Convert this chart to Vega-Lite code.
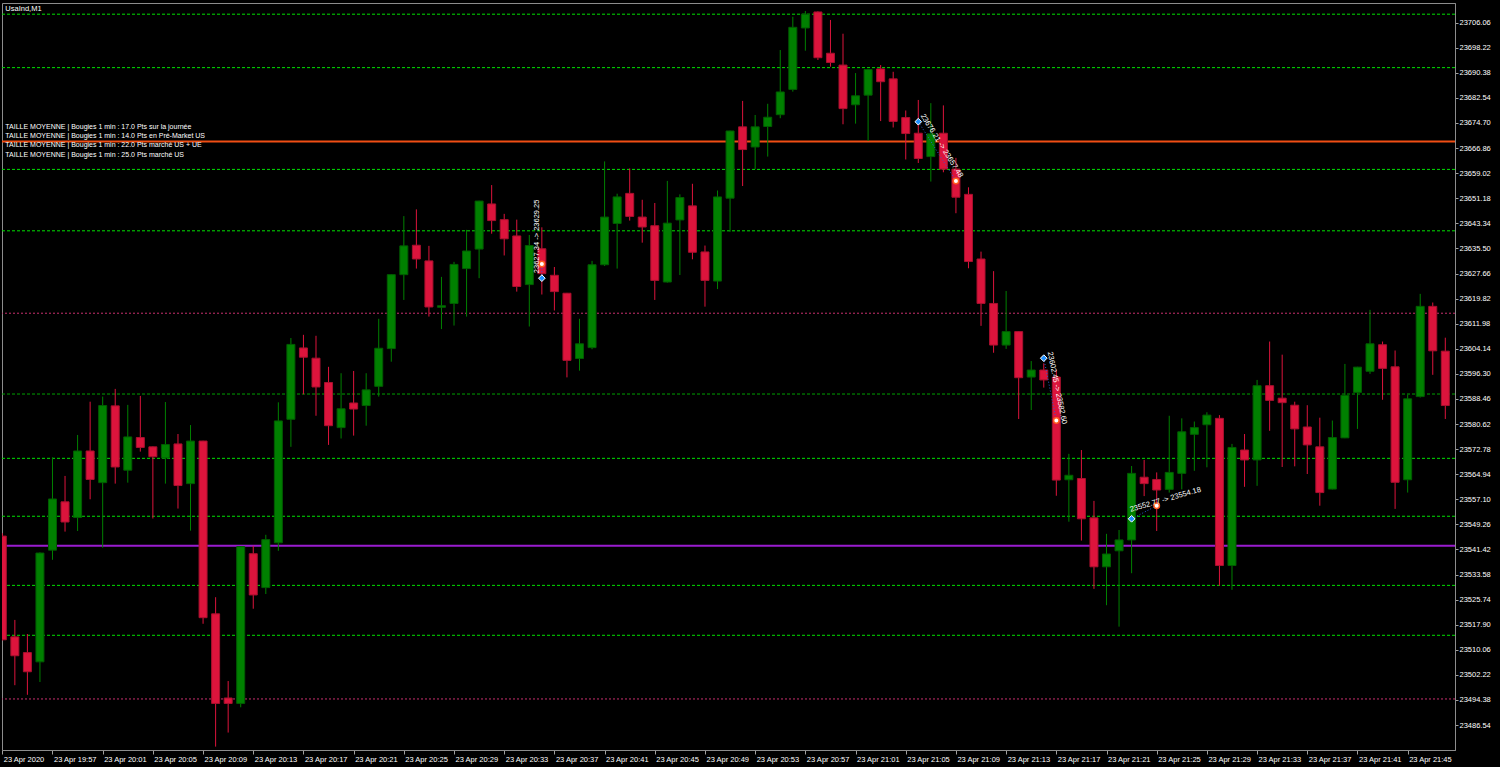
{
  "$schema": "https://vega.github.io/schema/vega-lite/v6.json",
  "width": 1453,
  "height": 747,
  "autosize": {"type": "none"},
  "padding": {"left": 2, "top": 3, "right": 45, "bottom": 17},
  "background": "#000000",
  "config": {
    "view": {"stroke": "#8c8c8c", "strokeWidth": 1},
    "scale": {"continuousPadding": 0},
    "axis": {"labelOverlap": false, "labelFlush": false, "labelBound": false, "grid": false}
  },
  "datasets": {
    "header": [
      {"t": "2020-04-23T19:53:00Z", "p": 23712.2, "txt": "UsaInd,M1"}
    ],
    "levels": [
      {"p": 23708.7, "type": "niveau"},
      {"p": 23692.0, "type": "niveau"},
      {"p": 23660.2, "type": "niveau"},
      {"p": 23641.0, "type": "niveau"},
      {"p": 23590.0, "type": "niveau fort"},
      {"p": 23569.9, "type": "niveau"},
      {"p": 23551.8, "type": "niveau"},
      {"p": 23530.2, "type": "niveau"},
      {"p": 23514.6, "type": "niveau"},
      {"p": 23615.25, "type": "extreme"},
      {"p": 23494.7, "type": "extreme"},
      {"p": 23668.9, "type": "ouverture"},
      {"p": 23542.6, "type": "cloture"}
    ],
    "info": [
      {"t": "2020-04-23T19:53:00Z", "p": 23668.9, "txt": "TAILLE MOYENNE | Bougies 1 min : 17.0 Pts sur la journée\nTAILLE MOYENNE | Bougies 1 min : 14.0 Pts en Pré-Market US\nTAILLE MOYENNE | Bougies 1 min : 22.0 Pts marché US + UE\nTAILLE MOYENNE | Bougies 1 min : 25.0 Pts marché US"}
    ],
    "trades": [
      {"id": 1, "t_in": "2020-04-23T20:36:00Z", "p_in": 23626.2, "t_out": "2020-04-23T20:36:00Z", "p_out": 23630.6, "label": "23627.34 -> 23629.25"},
      {"id": 2, "t_in": "2020-04-23T21:06:00Z", "p_in": 23675.1, "t_out": "2020-04-23T21:09:00Z", "p_out": 23656.6, "label": "23676.21 -> 23657.48"},
      {"id": 3, "t_in": "2020-04-23T21:16:00Z", "p_in": 23601.2, "t_out": "2020-04-23T21:17:00Z", "p_out": 23581.7, "label": "23602.45 -> 23582.60"},
      {"id": 4, "t_in": "2020-04-23T21:23:00Z", "p_in": 23551.0, "t_out": "2020-04-23T21:25:00Z", "p_out": 23555.1, "label": "23552.77 -> 23554.18"}
    ],
    "candles": [
      {"t": "2020-04-23T19:53:00Z", "o": 23545.6, "h": 23546.5, "l": 23513.0, "c": 23513.2},
      {"t": "2020-04-23T19:54:00Z", "o": 23514.1, "h": 23519.4, "l": 23499.0, "c": 23508.2},
      {"t": "2020-04-23T19:55:00Z", "o": 23509.2, "h": 23515.0, "l": 23496.0, "c": 23503.2},
      {"t": "2020-04-23T19:56:00Z", "o": 23506.3, "h": 23540.5, "l": 23500.0, "c": 23540.3},
      {"t": "2020-04-23T19:57:00Z", "o": 23541.2, "h": 23570.2, "l": 23538.2, "c": 23557.2},
      {"t": "2020-04-23T19:58:00Z", "o": 23556.3, "h": 23564.4, "l": 23547.0, "c": 23550.0},
      {"t": "2020-04-23T19:59:00Z", "o": 23551.4, "h": 23577.2, "l": 23547.2, "c": 23572.2},
      {"t": "2020-04-23T20:00:00Z", "o": 23572.2, "h": 23587.6, "l": 23557.1, "c": 23563.3},
      {"t": "2020-04-23T20:01:00Z", "o": 23562.3, "h": 23589.2, "l": 23542.0, "c": 23586.4},
      {"t": "2020-04-23T20:02:00Z", "o": 23586.3, "h": 23591.6, "l": 23562.0, "c": 23567.2},
      {"t": "2020-04-23T20:03:00Z", "o": 23566.2, "h": 23586.6, "l": 23562.3, "c": 23576.6},
      {"t": "2020-04-23T20:04:00Z", "o": 23576.4, "h": 23589.4, "l": 23572.0, "c": 23573.3},
      {"t": "2020-04-23T20:05:00Z", "o": 23573.5, "h": 23573.6, "l": 23551.1, "c": 23570.4},
      {"t": "2020-04-23T20:06:00Z", "o": 23570.0, "h": 23587.5, "l": 23562.0, "c": 23574.2},
      {"t": "2020-04-23T20:07:00Z", "o": 23574.4, "h": 23577.5, "l": 23554.2, "c": 23561.4},
      {"t": "2020-04-23T20:08:00Z", "o": 23562.0, "h": 23580.3, "l": 23547.3, "c": 23575.3},
      {"t": "2020-04-23T20:09:00Z", "o": 23575.3, "h": 23575.4, "l": 23518.2, "c": 23520.1},
      {"t": "2020-04-23T20:10:00Z", "o": 23521.3, "h": 23526.5, "l": 23479.8, "c": 23493.3},
      {"t": "2020-04-23T20:11:00Z", "o": 23495.0, "h": 23500.3, "l": 23484.2, "c": 23493.3},
      {"t": "2020-04-23T20:12:00Z", "o": 23493.3, "h": 23542.4, "l": 23492.1, "c": 23542.3},
      {"t": "2020-04-23T20:13:00Z", "o": 23540.1, "h": 23542.6, "l": 23522.9, "c": 23527.2},
      {"t": "2020-04-23T20:14:00Z", "o": 23529.5, "h": 23546.0, "l": 23527.5, "c": 23544.5},
      {"t": "2020-04-23T20:15:00Z", "o": 23543.5, "h": 23587.4, "l": 23541.0, "c": 23581.6},
      {"t": "2020-04-23T20:16:00Z", "o": 23582.1, "h": 23607.5, "l": 23573.5, "c": 23605.5},
      {"t": "2020-04-23T20:17:00Z", "o": 23604.4, "h": 23608.5, "l": 23589.9, "c": 23601.5},
      {"t": "2020-04-23T20:18:00Z", "o": 23601.2, "h": 23608.2, "l": 23583.2, "c": 23592.2},
      {"t": "2020-04-23T20:19:00Z", "o": 23593.6, "h": 23598.5, "l": 23574.1, "c": 23580.1},
      {"t": "2020-04-23T20:20:00Z", "o": 23579.5, "h": 23596.5, "l": 23576.1, "c": 23585.4},
      {"t": "2020-04-23T20:21:00Z", "o": 23587.2, "h": 23597.2, "l": 23577.0, "c": 23585.3},
      {"t": "2020-04-23T20:22:00Z", "o": 23586.4, "h": 23596.5, "l": 23580.1, "c": 23591.3},
      {"t": "2020-04-23T20:23:00Z", "o": 23592.4, "h": 23613.5, "l": 23589.2, "c": 23604.3},
      {"t": "2020-04-23T20:24:00Z", "o": 23604.2, "h": 23627.4, "l": 23600.1, "c": 23627.3},
      {"t": "2020-04-23T20:25:00Z", "o": 23627.3, "h": 23645.6, "l": 23619.4, "c": 23636.3},
      {"t": "2020-04-23T20:26:00Z", "o": 23636.5, "h": 23647.7, "l": 23629.2, "c": 23632.2},
      {"t": "2020-04-23T20:27:00Z", "o": 23631.6, "h": 23636.3, "l": 23614.2, "c": 23617.2},
      {"t": "2020-04-23T20:28:00Z", "o": 23617.1, "h": 23626.6, "l": 23610.3, "c": 23617.6},
      {"t": "2020-04-23T20:29:00Z", "o": 23618.3, "h": 23631.3, "l": 23611.4, "c": 23630.5},
      {"t": "2020-04-23T20:30:00Z", "o": 23629.2, "h": 23641.3, "l": 23614.2, "c": 23634.7},
      {"t": "2020-04-23T20:31:00Z", "o": 23635.3, "h": 23650.4, "l": 23626.2, "c": 23650.3},
      {"t": "2020-04-23T20:32:00Z", "o": 23649.4, "h": 23655.3, "l": 23640.1, "c": 23644.2},
      {"t": "2020-04-23T20:33:00Z", "o": 23644.5, "h": 23646.3, "l": 23633.3, "c": 23638.5},
      {"t": "2020-04-23T20:34:00Z", "o": 23639.4, "h": 23644.5, "l": 23622.0, "c": 23623.6},
      {"t": "2020-04-23T20:35:00Z", "o": 23624.2, "h": 23639.7, "l": 23611.1, "c": 23636.4},
      {"t": "2020-04-23T20:36:00Z", "o": 23635.4, "h": 23642.1, "l": 23621.1, "c": 23627.6},
      {"t": "2020-04-23T20:37:00Z", "o": 23627.1, "h": 23629.7, "l": 23616.1, "c": 23622.0},
      {"t": "2020-04-23T20:38:00Z", "o": 23621.5, "h": 23621.6, "l": 23595.2, "c": 23600.5},
      {"t": "2020-04-23T20:39:00Z", "o": 23601.1, "h": 23613.5, "l": 23597.3, "c": 23605.7},
      {"t": "2020-04-23T20:40:00Z", "o": 23604.5, "h": 23631.6, "l": 23604.0, "c": 23630.4},
      {"t": "2020-04-23T20:41:00Z", "o": 23630.4, "h": 23662.7, "l": 23630.0, "c": 23645.3},
      {"t": "2020-04-23T20:42:00Z", "o": 23643.3, "h": 23652.6, "l": 23629.2, "c": 23651.6},
      {"t": "2020-04-23T20:43:00Z", "o": 23652.7, "h": 23660.5, "l": 23644.2, "c": 23645.5},
      {"t": "2020-04-23T20:44:00Z", "o": 23645.3, "h": 23650.7, "l": 23637.3, "c": 23642.2},
      {"t": "2020-04-23T20:45:00Z", "o": 23642.6, "h": 23649.7, "l": 23619.4, "c": 23625.5},
      {"t": "2020-04-23T20:46:00Z", "o": 23625.0, "h": 23656.6, "l": 23624.8, "c": 23643.4},
      {"t": "2020-04-23T20:47:00Z", "o": 23644.4, "h": 23652.4, "l": 23627.2, "c": 23651.4},
      {"t": "2020-04-23T20:48:00Z", "o": 23648.8, "h": 23655.7, "l": 23632.1, "c": 23634.3},
      {"t": "2020-04-23T20:49:00Z", "o": 23634.4, "h": 23636.4, "l": 23617.3, "c": 23625.5},
      {"t": "2020-04-23T20:50:00Z", "o": 23625.3, "h": 23653.6, "l": 23622.8, "c": 23651.6},
      {"t": "2020-04-23T20:51:00Z", "o": 23651.2, "h": 23672.3, "l": 23640.7, "c": 23672.2},
      {"t": "2020-04-23T20:52:00Z", "o": 23673.5, "h": 23681.6, "l": 23655.0, "c": 23666.4},
      {"t": "2020-04-23T20:53:00Z", "o": 23667.2, "h": 23677.2, "l": 23660.3, "c": 23673.5},
      {"t": "2020-04-23T20:54:00Z", "o": 23673.6, "h": 23680.7, "l": 23664.2, "c": 23676.5},
      {"t": "2020-04-23T20:55:00Z", "o": 23677.3, "h": 23697.5, "l": 23676.2, "c": 23684.4},
      {"t": "2020-04-23T20:56:00Z", "o": 23685.2, "h": 23707.9, "l": 23684.5, "c": 23704.6},
      {"t": "2020-04-23T20:57:00Z", "o": 23704.4, "h": 23709.7, "l": 23697.3, "c": 23708.7},
      {"t": "2020-04-23T20:58:00Z", "o": 23709.4, "h": 23709.6, "l": 23694.4, "c": 23695.1},
      {"t": "2020-04-23T20:59:00Z", "o": 23696.5, "h": 23706.9, "l": 23692.3, "c": 23693.6},
      {"t": "2020-04-23T21:00:00Z", "o": 23692.8, "h": 23702.6, "l": 23674.3, "c": 23679.2},
      {"t": "2020-04-23T21:01:00Z", "o": 23680.4, "h": 23690.3, "l": 23674.5, "c": 23683.2},
      {"t": "2020-04-23T21:02:00Z", "o": 23683.4, "h": 23691.6, "l": 23669.1, "c": 23691.4},
      {"t": "2020-04-23T21:03:00Z", "o": 23691.6, "h": 23692.8, "l": 23675.3, "c": 23687.6},
      {"t": "2020-04-23T21:04:00Z", "o": 23688.5, "h": 23690.7, "l": 23673.3, "c": 23675.2},
      {"t": "2020-04-23T21:05:00Z", "o": 23676.4, "h": 23678.6, "l": 23663.3, "c": 23671.4},
      {"t": "2020-04-23T21:06:00Z", "o": 23671.5, "h": 23681.9, "l": 23662.2, "c": 23663.6},
      {"t": "2020-04-23T21:07:00Z", "o": 23664.2, "h": 23680.9, "l": 23656.4, "c": 23671.3},
      {"t": "2020-04-23T21:08:00Z", "o": 23671.5, "h": 23680.2, "l": 23659.3, "c": 23660.3},
      {"t": "2020-04-23T21:09:00Z", "o": 23660.3, "h": 23663.8, "l": 23646.5, "c": 23651.5},
      {"t": "2020-04-23T21:10:00Z", "o": 23652.4, "h": 23654.6, "l": 23629.3, "c": 23631.4},
      {"t": "2020-04-23T21:11:00Z", "o": 23632.2, "h": 23634.5, "l": 23611.3, "c": 23618.3},
      {"t": "2020-04-23T21:12:00Z", "o": 23618.3, "h": 23628.4, "l": 23602.9, "c": 23605.3},
      {"t": "2020-04-23T21:13:00Z", "o": 23605.3, "h": 23622.2, "l": 23604.1, "c": 23609.5},
      {"t": "2020-04-23T21:14:00Z", "o": 23609.5, "h": 23609.6, "l": 23582.2, "c": 23595.1},
      {"t": "2020-04-23T21:15:00Z", "o": 23595.3, "h": 23600.3, "l": 23585.0, "c": 23597.5},
      {"t": "2020-04-23T21:16:00Z", "o": 23597.5, "h": 23599.6, "l": 23592.0, "c": 23594.4},
      {"t": "2020-04-23T21:17:00Z", "o": 23595.3, "h": 23597.5, "l": 23558.2, "c": 23563.1},
      {"t": "2020-04-23T21:18:00Z", "o": 23563.2, "h": 23571.3, "l": 23550.1, "c": 23564.6},
      {"t": "2020-04-23T21:19:00Z", "o": 23563.6, "h": 23572.5, "l": 23544.2, "c": 23551.0},
      {"t": "2020-04-23T21:20:00Z", "o": 23551.3, "h": 23556.6, "l": 23529.1, "c": 23536.0},
      {"t": "2020-04-23T21:21:00Z", "o": 23536.0, "h": 23546.3, "l": 23524.0, "c": 23540.0},
      {"t": "2020-04-23T21:22:00Z", "o": 23541.0, "h": 23547.5, "l": 23517.3, "c": 23544.4},
      {"t": "2020-04-23T21:23:00Z", "o": 23544.4, "h": 23567.5, "l": 23534.0, "c": 23565.2},
      {"t": "2020-04-23T21:24:00Z", "o": 23564.0, "h": 23569.4, "l": 23558.1, "c": 23562.0},
      {"t": "2020-04-23T21:25:00Z", "o": 23563.3, "h": 23565.5, "l": 23547.2, "c": 23560.0},
      {"t": "2020-04-23T21:26:00Z", "o": 23560.2, "h": 23583.2, "l": 23559.2, "c": 23565.5},
      {"t": "2020-04-23T21:27:00Z", "o": 23565.2, "h": 23582.4, "l": 23560.2, "c": 23578.2},
      {"t": "2020-04-23T21:28:00Z", "o": 23577.4, "h": 23581.4, "l": 23566.0, "c": 23579.5},
      {"t": "2020-04-23T21:29:00Z", "o": 23580.4, "h": 23584.3, "l": 23567.1, "c": 23583.4},
      {"t": "2020-04-23T21:30:00Z", "o": 23582.4, "h": 23583.4, "l": 23530.1, "c": 23536.4},
      {"t": "2020-04-23T21:31:00Z", "o": 23536.4, "h": 23574.4, "l": 23528.8, "c": 23573.3},
      {"t": "2020-04-23T21:32:00Z", "o": 23572.5, "h": 23577.5, "l": 23561.0, "c": 23569.4},
      {"t": "2020-04-23T21:33:00Z", "o": 23569.4, "h": 23594.4, "l": 23561.3, "c": 23592.6},
      {"t": "2020-04-23T21:34:00Z", "o": 23592.6, "h": 23606.4, "l": 23578.5, "c": 23588.0},
      {"t": "2020-04-23T21:35:00Z", "o": 23588.7, "h": 23602.3, "l": 23567.2, "c": 23587.3},
      {"t": "2020-04-23T21:36:00Z", "o": 23586.5, "h": 23587.6, "l": 23567.4, "c": 23579.1},
      {"t": "2020-04-23T21:37:00Z", "o": 23579.7, "h": 23586.5, "l": 23565.0, "c": 23574.1},
      {"t": "2020-04-23T21:38:00Z", "o": 23573.5, "h": 23582.6, "l": 23555.1, "c": 23559.2},
      {"t": "2020-04-23T21:39:00Z", "o": 23560.3, "h": 23581.7, "l": 23560.2, "c": 23576.4},
      {"t": "2020-04-23T21:40:00Z", "o": 23576.3, "h": 23599.4, "l": 23576.2, "c": 23589.6},
      {"t": "2020-04-23T21:41:00Z", "o": 23590.5, "h": 23598.5, "l": 23579.1, "c": 23598.4},
      {"t": "2020-04-23T21:42:00Z", "o": 23597.1, "h": 23616.3, "l": 23596.3, "c": 23605.7},
      {"t": "2020-04-23T21:43:00Z", "o": 23605.4, "h": 23606.4, "l": 23588.2, "c": 23598.0},
      {"t": "2020-04-23T21:44:00Z", "o": 23598.5, "h": 23603.6, "l": 23554.1, "c": 23562.4},
      {"t": "2020-04-23T21:45:00Z", "o": 23563.2, "h": 23589.8, "l": 23559.2, "c": 23588.5},
      {"t": "2020-04-23T21:46:00Z", "o": 23589.2, "h": 23621.3, "l": 23588.9, "c": 23617.4},
      {"t": "2020-04-23T21:47:00Z", "o": 23617.4, "h": 23618.6, "l": 23596.0, "c": 23603.5},
      {"t": "2020-04-23T21:48:00Z", "o": 23603.4, "h": 23607.6, "l": 23582.2, "c": 23586.4}
    ]
  },
  "layer": [
    {
      "data": {"name": "levels"},
      "transform": [{"filter": "datum.type == 'niveau' || datum.type == 'niveau fort'"}],
      "mark": {"type": "rule", "strokeDash": [3, 2], "strokeWidth": 1},
      "encoding": {
        "y": {
          "field": "p", "type": "quantitative", "title": null,
          "scale": {"domain": [23478.75, 23712.2], "nice": false, "zero": false},
          "axis": {
            "orient": "right",
            "values": [23706.06, 23698.22, 23690.38, 23682.54, 23674.70, 23666.86, 23659.02, 23651.18, 23643.34, 23635.50, 23627.66, 23619.82, 23611.98, 23604.14, 23596.30, 23588.46, 23580.62, 23572.78, 23564.94, 23557.10, 23549.26, 23541.42, 23533.58, 23525.74, 23517.90, 23510.06, 23502.22, 23494.38, 23486.54],
            "tickCount": 60,
            "format": ".2f", "labelAlign": "left", "labelPadding": 1, "tickSize": 3, "tickColor": "#a0a0a0", "domainColor": "#8c8c8c",
            "labelColor": "#ffffff", "labelFont": "Liberation Sans", "labelFontSize": 7.5, "labelOverlap": false, "labelFlush": false, "labelSeparation": 0, "grid": false, "title": null
          }
        },
        "color": {"field": "type", "type": "nominal", "scale": {"domain": ["niveau", "niveau fort"], "range": ["#00e000", "#00a000"]}, "legend": null}
      }
    },
    {
      "data": {"name": "levels"},
      "transform": [{"filter": "datum.type == 'extreme'"}],
      "mark": {"type": "rule", "strokeDash": [2, 2], "strokeWidth": 1, "color": "#c8306e"},
      "encoding": {
        "y": {"field": "p", "type": "quantitative", "title": null, "scale": {"domain": [23478.75, 23712.2], "nice": false, "zero": false}}
      }
    },
    {
      "data": {"name": "levels"},
      "transform": [{"filter": "datum.type == 'ouverture' || datum.type == 'cloture'"}],
      "mark": {"type": "rule", "strokeWidth": 2},
      "encoding": {
        "y": {"field": "p", "type": "quantitative", "title": null, "scale": {"domain": [23478.75, 23712.2], "nice": false, "zero": false}},
        "stroke": {"field": "type", "type": "nominal", "scale": {"domain": ["ouverture", "cloture"], "range": ["#f04e14", "#9a1ccf"]}, "legend": null}
      }
    },
    {
      "data": {"name": "candles"},
      "mark": {"type": "rule", "strokeWidth": 1, "clip": true},
      "encoding": {
        "x": {
          "field": "t", "type": "temporal", "title": null,
          "scale": {"type": "utc", "domain": [1587671578570, 1587678526380], "nice": false, "padding": 0},
          "axis": {
            "values": [1587671580000, 1587671820000, 1587672060000, 1587672300000, 1587672540000, 1587672780000, 1587673020000, 1587673260000, 1587673500000, 1587673740000, 1587673980000, 1587674220000, 1587674460000, 1587674700000, 1587674940000, 1587675180000, 1587675420000, 1587675660000, 1587675900000, 1587676140000, 1587676380000, 1587676620000, 1587676860000, 1587677100000, 1587677340000, 1587677580000, 1587677820000, 1587678060000, 1587678300000],
            "tickCount": 60,
            "labelExpr": "time(datum.value) == 1587671580000 ? '23 Apr 2020' : utcFormat(datum.value, '%d %b %H:%M')",
            "labelAlign": "left", "labelBaseline": "top", "labelFlush": false, "labelOverlap": false, "labelBound": false,
            "labelPadding": 1, "labelOffset": 1, "tickSize": 4, "tickColor": "#a0a0a0", "domainColor": "#8c8c8c",
            "labelColor": "#ffffff", "labelFont": "Liberation Sans", "labelFontSize": 7.5, "grid": false, "title": null
          }
        },
        "y": {"field": "l", "type": "quantitative", "title": null, "scale": {"domain": [23478.75, 23712.2], "nice": false, "zero": false}},
        "y2": {"field": "h"},
        "color": {"condition": {"test": "datum.c >= datum.o", "value": "#008000"}, "value": "#dc143c"}
      }
    },
    {
      "data": {"name": "candles"},
      "mark": {"type": "bar", "width": 8, "strokeWidth": 1, "clip": true},
      "encoding": {
        "x": {"field": "t", "type": "temporal", "title": null, "scale": {"type": "utc", "domain": [1587671578570, 1587678526380], "nice": false, "padding": 0}},
        "y": {"field": "o", "type": "quantitative", "title": null, "scale": {"domain": [23478.75, 23712.2], "nice": false, "zero": false}},
        "y2": {"field": "c"},
        "color": {"condition": {"test": "datum.c >= datum.o", "value": "#008000"}, "value": "#dc143c"},
        "stroke": {"condition": {"test": "datum.c >= datum.o", "value": "#005c00"}, "value": "#a8102e"}
      }
    },
    {
      "data": {"name": "trades"},
      "mark": {"type": "rule", "strokeDash": [1, 2], "strokeWidth": 1, "color": "#2a5bd7"},
      "encoding": {
        "x": {"field": "t_in", "type": "temporal", "title": null, "scale": {"type": "utc", "domain": [1587671578570, 1587678526380], "nice": false, "padding": 0}},
        "x2": {"field": "t_out"},
        "y": {"field": "p_in", "type": "quantitative", "title": null, "scale": {"domain": [23478.75, 23712.2], "nice": false, "zero": false}},
        "y2": {"field": "p_out"}
      }
    },
    {
      "data": {"name": "trades"},
      "mark": {"type": "point", "shape": "diamond", "filled": true, "size": 45, "color": "#1e90ff", "stroke": "#ffffff", "strokeWidth": 1, "opacity": 1},
      "encoding": {
        "x": {"field": "t_in", "type": "temporal", "title": null, "scale": {"type": "utc", "domain": [1587671578570, 1587678526380], "nice": false, "padding": 0}},
        "y": {"field": "p_in", "type": "quantitative", "title": null, "scale": {"domain": [23478.75, 23712.2], "nice": false, "zero": false}}
      }
    },
    {
      "data": {"name": "trades"},
      "mark": {"type": "point", "shape": "circle", "filled": true, "size": 30, "color": "#ffffff", "stroke": "#ff5a1e", "strokeWidth": 1.5, "opacity": 1},
      "encoding": {
        "x": {"field": "t_out", "type": "temporal", "title": null, "scale": {"type": "utc", "domain": [1587671578570, 1587678526380], "nice": false, "padding": 0}},
        "y": {"field": "p_out", "type": "quantitative", "title": null, "scale": {"domain": [23478.75, 23712.2], "nice": false, "zero": false}}
      }
    },
    {
      "data": {"name": "trades"},
      "transform": [{"filter": "datum.id == 1"}],
      "mark": {"type": "text", "angle": 270, "align": "left", "baseline": "middle", "dx": 5, "dy": -5, "font": "Liberation Sans", "fontSize": 7.5, "color": "#ffffff"},
      "encoding": {
        "x": {"field": "t_in", "type": "temporal", "title": null, "scale": {"type": "utc", "domain": [1587671578570, 1587678526380], "nice": false, "padding": 0}},
        "y": {"field": "p_in", "type": "quantitative", "title": null, "scale": {"domain": [23478.75, 23712.2], "nice": false, "zero": false}},
        "text": {"field": "label"}
      }
    },
    {
      "data": {"name": "trades"},
      "transform": [{"filter": "datum.id == 2"}],
      "mark": {"type": "text", "angle": 58, "align": "left", "baseline": "middle", "dx": -4, "dy": -7, "font": "Liberation Sans", "fontSize": 7.5, "color": "#ffffff"},
      "encoding": {
        "x": {"field": "t_in", "type": "temporal", "title": null, "scale": {"type": "utc", "domain": [1587671578570, 1587678526380], "nice": false, "padding": 0}},
        "y": {"field": "p_in", "type": "quantitative", "title": null, "scale": {"domain": [23478.75, 23712.2], "nice": false, "zero": false}},
        "text": {"field": "label"}
      }
    },
    {
      "data": {"name": "trades"},
      "transform": [{"filter": "datum.id == 3"}],
      "mark": {"type": "text", "angle": 78.5, "align": "left", "baseline": "middle", "dx": -5, "dy": -7, "font": "Liberation Sans", "fontSize": 7.5, "color": "#ffffff"},
      "encoding": {
        "x": {"field": "t_in", "type": "temporal", "title": null, "scale": {"type": "utc", "domain": [1587671578570, 1587678526380], "nice": false, "padding": 0}},
        "y": {"field": "p_in", "type": "quantitative", "title": null, "scale": {"domain": [23478.75, 23712.2], "nice": false, "zero": false}},
        "text": {"field": "label"}
      }
    },
    {
      "data": {"name": "trades"},
      "transform": [{"filter": "datum.id == 4"}],
      "mark": {"type": "text", "angle": 344, "align": "left", "baseline": "middle", "dx": 1, "dy": -9, "font": "Liberation Sans", "fontSize": 7.5, "color": "#ffffff"},
      "encoding": {
        "x": {"field": "t_in", "type": "temporal", "title": null, "scale": {"type": "utc", "domain": [1587671578570, 1587678526380], "nice": false, "padding": 0}},
        "y": {"field": "p_in", "type": "quantitative", "title": null, "scale": {"domain": [23478.75, 23712.2], "nice": false, "zero": false}},
        "text": {"field": "label"}
      }
    },
    {
      "data": {"name": "info"},
      "mark": {"type": "text", "align": "left", "baseline": "top", "dx": 3, "dy": -19, "lineBreak": "\n", "lineHeight": 9.4, "font": "Liberation Sans", "fontSize": 7, "color": "#ffffff"},
      "encoding": {
        "x": {"field": "t", "type": "temporal", "title": null, "scale": {"type": "utc", "domain": [1587671578570, 1587678526380], "nice": false, "padding": 0}},
        "y": {"field": "p", "type": "quantitative", "title": null, "scale": {"domain": [23478.75, 23712.2], "nice": false, "zero": false}},
        "text": {"field": "txt"}
      }
    },
    {
      "data": {"name": "header"},
      "mark": {"type": "text", "align": "left", "baseline": "top", "dx": 3, "dy": 1.5, "font": "Liberation Sans", "fontSize": 7.5, "color": "#ffffff"},
      "encoding": {
        "x": {"field": "t", "type": "temporal", "title": null, "scale": {"type": "utc", "domain": [1587671578570, 1587678526380], "nice": false, "padding": 0}},
        "y": {"field": "p", "type": "quantitative", "title": null, "scale": {"domain": [23478.75, 23712.2], "nice": false, "zero": false}},
        "text": {"field": "txt"}
      }
    }
  ]
}
